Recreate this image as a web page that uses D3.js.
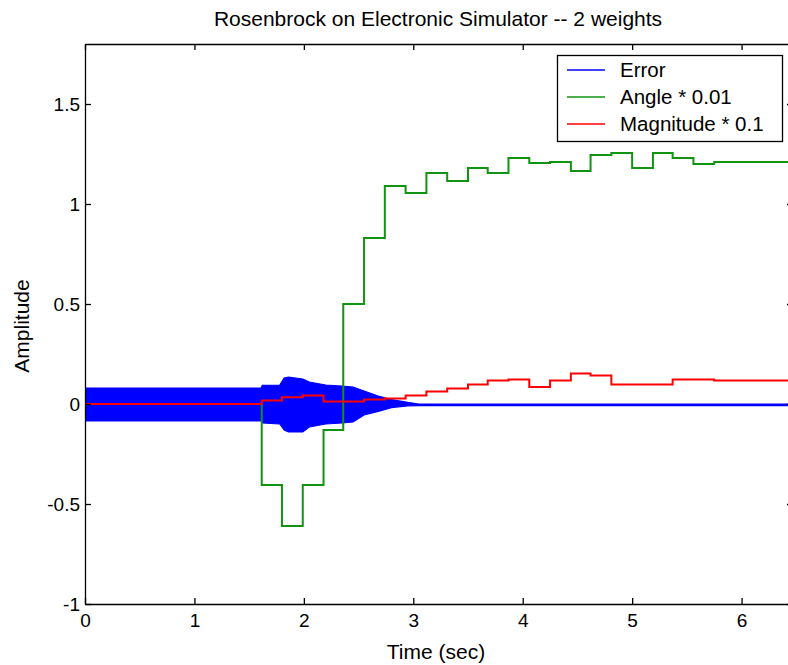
<!DOCTYPE html>
<html>
<head>
<meta charset="utf-8">
<script src="https://cdn.jsdelivr.net/npm/d3@7"></script>
<style>
  html, body { margin: 0; padding: 0; background: #fff; }
  svg { display: block; }
  text { font-family: "Liberation Sans", Arial, sans-serif; fill: #000; }
</style>
</head>
<body>
<svg id="chart" width="788" height="665"></svg>
<script>
// ---------------- data ----------------
const titleText = "Rosenbrock on Electronic Simulator -- 2 weights";
const xLabel = "Time (sec)";
const yLabel = "Amplitude";
const xTicks = [0, 1, 2, 3, 4, 5, 6];
const yTicks = [-1, -0.5, 0, 0.5, 1, 1.5];
const yTickLabels = ["-1", "-0.5", "0", "0.5", "1", "1.5"];
const seriesNames = ["Error", "Angle * 0.01", "Magnitude * 0.1"];
const seriesColors = ["#0000ff", "#119411", "#ff0000"];

// step start times (sec) for the sampled angle / magnitude signals
const stepTimes = [0, 1.615, 1.80, 1.99, 2.18, 2.36, 2.55, 2.74, 2.93, 3.12, 3.31, 3.50,
                   3.68, 3.87, 4.06, 4.25, 4.44, 4.62, 4.81, 5.00, 5.19, 5.37, 5.56, 5.75];
const angleScaled = [0, -0.405, -0.61, -0.405, -0.13, 0.50, 0.83, 1.09, 1.055, 1.155, 1.115, 1.18,
                     1.155, 1.23, 1.205, 1.21, 1.165, 1.245, 1.255, 1.18, 1.255, 1.23, 1.20, 1.21];
const magnitudeScaled = [0, 0.017, 0.034, 0.042, 0.012, 0.012, 0.022, 0.028, 0.043, 0.062, 0.078, 0.098,
                         0.117, 0.123, 0.085, 0.117, 0.153, 0.143, 0.098, 0.098, 0.098, 0.123, 0.123, 0.117];

// envelope of the fast-oscillating error signal
const errTimes = [0, 1.61, 1.62, 1.78, 1.82, 1.86, 1.99, 2.05, 2.20, 2.35, 2.45, 2.55, 2.68, 2.80, 2.95, 3.05, 6.47];
const errUpper = [0.08, 0.08, 0.093, 0.095, 0.13, 0.135, 0.125, 0.11, 0.095, 0.09, 0.085, 0.065, 0.04, 0.022, 0.008, 0.0, 0.0];
const errLower = [-0.085, -0.085, -0.095, -0.10, -0.13, -0.14, -0.14, -0.115, -0.10, -0.095, -0.09, -0.055, -0.037, -0.018, -0.009, -0.008, -0.008];

const xDomain = [0, 6.47];
const yDomain = [-1, 1.8];

// ---------------- layout ----------------
const svg = d3.select("#chart");
const L = 85, R = 793, T = 44, B = 604;
const x = d3.scaleLinear().domain(xDomain).range([L, R]);
const y = d3.scaleLinear().domain(yDomain).range([B, T]);
const fs = 19, fsBig = 21;

svg.append("defs").append("clipPath").attr("id", "plotclip")
  .append("rect").attr("x", L).attr("y", T).attr("width", R - L).attr("height", B - T);

const plot = svg.append("g").attr("clip-path", "url(#plotclip)");

// error envelope
const errData = errTimes.map((t, i) => ({t, hi: errUpper[i], lo: errLower[i]}));
plot.append("path")
  .datum(errData)
  .attr("d", d3.area().x(d => x(d.t)).y0(d => y(d.lo)).y1(d => y(d.hi)))
  .attr("fill", seriesColors[0])
  .attr("stroke", seriesColors[0])
  .attr("stroke-width", 1.2);

// step series
const stepLine = d3.line().x(d => x(d.t)).y(d => y(d.v)).curve(d3.curveStepAfter);
function stepData(vals) {
  const d = stepTimes.map((t, i) => ({t, v: vals[i]}));
  d.push({t: xDomain[1], v: vals[vals.length - 1]});
  return d;
}
plot.append("path").datum(stepData(angleScaled)).attr("d", stepLine)
  .attr("fill", "none").attr("stroke", seriesColors[1]).attr("stroke-width", 2);
plot.append("path").datum(stepData(magnitudeScaled)).attr("d", stepLine)
  .attr("fill", "none").attr("stroke", seriesColors[2]).attr("stroke-width", 2);

// ---------------- axes (box with inward ticks) ----------------
const tickLen = 6;
const axB = svg.append("g").attr("transform", `translate(0,${B})`)
  .call(d3.axisBottom(x).tickValues(xTicks).tickFormat(d3.format("d")).tickSizeInner(-tickLen).tickSizeOuter(0).tickPadding(10));
const axT = svg.append("g").attr("transform", `translate(0,${T})`)
  .call(d3.axisTop(x).tickValues(xTicks).tickFormat("").tickSizeInner(-tickLen).tickSizeOuter(0));
const axL = svg.append("g").attr("transform", `translate(${L},0)`)
  .call(d3.axisLeft(y).tickValues(yTicks).tickFormat((d, i) => yTickLabels[i]).tickSizeInner(-tickLen).tickSizeOuter(0).tickPadding(5));
const axR = svg.append("g").attr("transform", `translate(${R},0)`)
  .call(d3.axisRight(y).tickValues(yTicks).tickFormat("").tickSizeInner(-tickLen).tickSizeOuter(0));

[axB, axT, axL, axR].forEach(a => {
  a.select(".domain").attr("stroke", "#000").attr("stroke-width", 1.3);
  a.selectAll(".tick line").attr("stroke", "#000").attr("stroke-width", 1.3);
  a.selectAll(".tick text").attr("font-size", fs).attr("font-family", "Liberation Sans, Arial, sans-serif").attr("fill", "#000");
});

// titles
svg.append("text").attr("x", (L + R) / 2 - 1).attr("y", 26).attr("text-anchor", "middle")
  .attr("font-size", fsBig).text(titleText);
svg.append("text").attr("x", (L + R) / 2 - 3).attr("y", 659).attr("text-anchor", "middle")
  .attr("font-size", fsBig).text(xLabel);
svg.append("text").attr("transform", `translate(29,${(T + B) / 2 + 2}) rotate(-90)`)
  .attr("text-anchor", "middle").attr("font-size", fsBig).text(yLabel);

// legend
const lg = svg.append("g");
lg.append("rect").attr("x", 557.5).attr("y", 55.5).attr("width", 225).attr("height", 86)
  .attr("fill", "#fff").attr("stroke", "#000").attr("stroke-width", 1.3);
seriesNames.forEach((name, i) => {
  const cy = 70 + i * 27;
  lg.append("line").attr("x1", 567).attr("x2", 605).attr("y1", cy).attr("y2", cy)
    .attr("stroke", seriesColors[i]).attr("stroke-width", 1.5);
  lg.append("text").attr("x", 620).attr("y", cy).attr("dy", "0.35em")
    .attr("font-size", fsBig - 0.5).text(name);
});
</script>
</body>
</html>
